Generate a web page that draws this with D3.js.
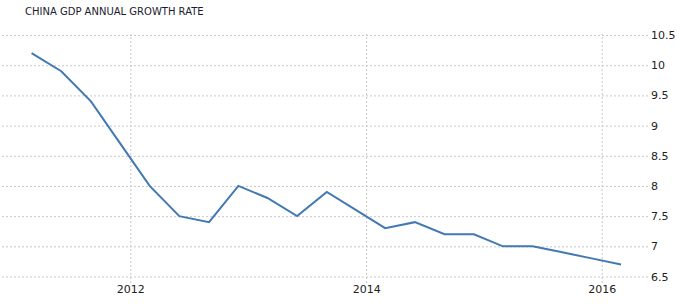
<!DOCTYPE html>
<html>
<head>
<meta charset="utf-8">
<script src="https://cdn.jsdelivr.net/npm/d3@7"></script>
<style>
  body { margin: 0; background: #fff; }
  text { font-family: Tahoma, "DejaVu Sans", sans-serif; }
</style>
</head>
<body>
<div id="chart"></div>
<script>
// quarterly readings, dated on the last month of each quarter
var quarters = ["2011-03", "2011-06", "2011-09", "2011-12",
                "2012-03", "2012-06", "2012-09", "2012-12",
                "2013-03", "2013-06", "2013-09", "2013-12",
                "2014-03", "2014-06", "2014-09", "2014-12",
                "2015-03", "2015-06", "2015-09", "2015-12",
                "2016-03"];
var growth = [10.2, 9.9, 9.4, 8.7,
              8.0, 7.5, 7.4, 8.0,
              7.8, 7.5, 7.9, 7.6,
              7.3, 7.4, 7.2, 7.2,
              7.0, 7.0, 6.9, 6.8,
              6.7];
var yTicks = [6.5, 7, 7.5, 8, 8.5, 9, 9.5, 10, 10.5];
var xTickYears = [2012, 2014, 2016];

var svgWidth = 690, svgHeight = 304;

var svg = d3.select("#chart").append("svg")
    .attr("width", svgWidth)
    .attr("height", svgHeight);

var parse = d3.timeParse("%Y-%m");
var data = quarters.map((q, i) => [parse(q), growth[i]]);

var xScale = d3.scaleTime()
    .domain([new Date(2012, 0, 1), new Date(2016, 0, 1)])
    .range([130.3, 601.7]);

var yScale = d3.scaleLinear()
    .domain([6.5, 10.5])
    .range([276.5, 35]);

// title
svg.append("text")
    .attr("x", 25)
    .attr("y", 15)
    .attr("font-size", "10px")
    .attr("fill", "#1a1a2e")
    .text("CHINA GDP ANNUAL GROWTH RATE");

// horizontal grid + right axis labels
var yAxis = d3.axisRight(yScale)
    .tickValues(yTicks)
    .tickSize(-646)
    .tickPadding(3)
    .tickFormat(d3.format("~g"));

var gy = svg.append("g")
    .attr("transform", "translate(648,0)")
    .call(yAxis);
gy.select(".domain").remove();
gy.selectAll(".tick line")
    .attr("stroke", "#c8c8c8")
    .attr("stroke-dasharray", "2,2");
gy.selectAll(".tick text")
    .attr("x", 3)
    .attr("font-size", "11px")
    .attr("fill", "#222");

// vertical grid + bottom year labels
var xAxis = d3.axisBottom(xScale)
    .tickValues(xTickYears.map(y => new Date(y, 0, 1)))
    .tickSize(-(283 - 34))
    .tickPadding(6)
    .tickFormat(d3.timeFormat("%Y"));

var gx = svg.append("g")
    .attr("transform", "translate(0,283)")
    .call(xAxis);
gx.select(".domain").remove();
gx.selectAll(".tick line")
    .attr("stroke", "#c8c8c8")
    .attr("stroke-dasharray", "2,2");
gx.selectAll(".tick text")
    .attr("y", 2)
    .attr("font-size", "11px")
    .attr("fill", "#222");

// the series
var line = d3.line()
    .x(d => xScale(d[0]))
    .y(d => yScale(d[1]));

svg.append("path")
    .datum(data)
    .attr("fill", "none")
    .attr("stroke", "#4279b3")
    .attr("stroke-width", 2)
    .attr("d", line);
</script>
</body>
</html>
